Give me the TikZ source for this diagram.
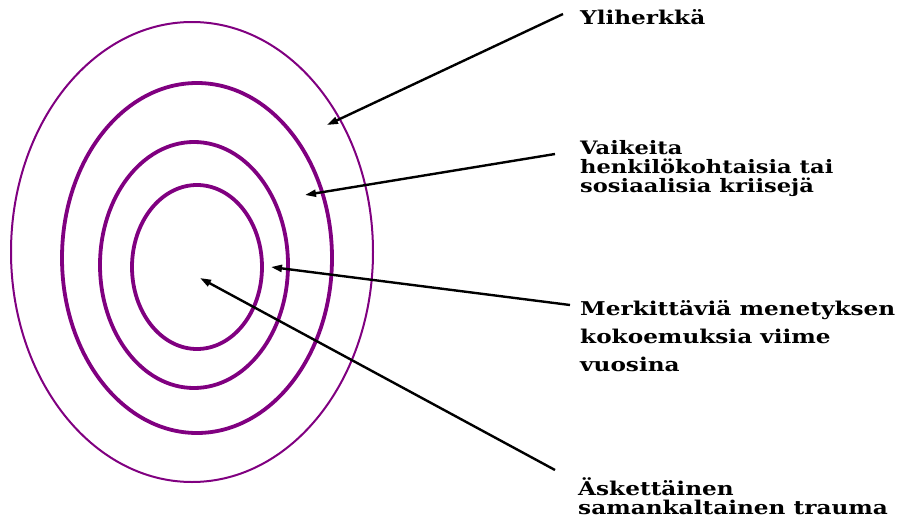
\documentclass[tikz,border=0pt]{standalone}
\usepackage{fontspec}
\newfontfamily\slabfont{DejaVu Serif}[FakeStretch=1.22]
\usetikzlibrary{arrows.meta}
\definecolor{ringpurple}{HTML}{800080}

\begin{document}
\begin{tikzpicture}[x=1pt,y=-1pt,
  ring/.style={ringpurple,line width=3.8pt},
  pointer/.style={line width=2.4pt,-{Triangle[length=11pt,width=7pt]}},
  lab/.style={anchor=north west,inner sep=0pt,align=left,font=\slabfont\bfseries}]
\useasboundingbox (0,0) rectangle (902,522);
% the four rings, outer one thin
\draw[ringpurple,line width=2pt] (192,252) ellipse [x radius=181,y radius=230];
\foreach \cx/\cy/\rx/\ry in {197/258/135/175,194/265/94/123,197/267/65/82}
  \draw[ring] (\cx,\cy) ellipse [x radius=\rx,y radius=\ry];
% where the arrows point
\coordinate (tipouter) at (327,125);
\coordinate (tipsecond) at (305,195);
\coordinate (tipthird) at (271,267);
\coordinate (tipcentre) at (200,278);
% labels
\node[lab,font=\slabfont\bfseries\fontsize{19}{20}\selectfont] (yli) at (580,9) {Yliherkkä};
\node[lab,font=\slabfont\bfseries\fontsize{18.5}{19}\selectfont] (kriisi) at (580,140) {Vaikeita\\henkilökohtaisia tai\\sosiaalisia kriisejä};
\node[lab,font=\slabfont\bfseries\fontsize{19}{28}\selectfont] (menetys) at (580,300) {Merkittäviä menetyksen\\kokoemuksia viime\\vuosina};
\node[lab,font=\slabfont\bfseries\fontsize{19}{19.5}\selectfont] (trauma) at (578,477) {Äskettäinen\\samankaltainen trauma};
% arrows
\draw[pointer] ([shift={(-17,5)}]yli.north west) -- (tipouter);
\draw[pointer] ([shift={(-25,14)}]kriisi.north west) -- (tipsecond);
\draw[pointer] ([shift={(-10,5)}]menetys.north west) -- (tipthird);
\draw[pointer] ([shift={(-23,-7)}]trauma.north west) -- (tipcentre);
\end{tikzpicture}
\end{document}
